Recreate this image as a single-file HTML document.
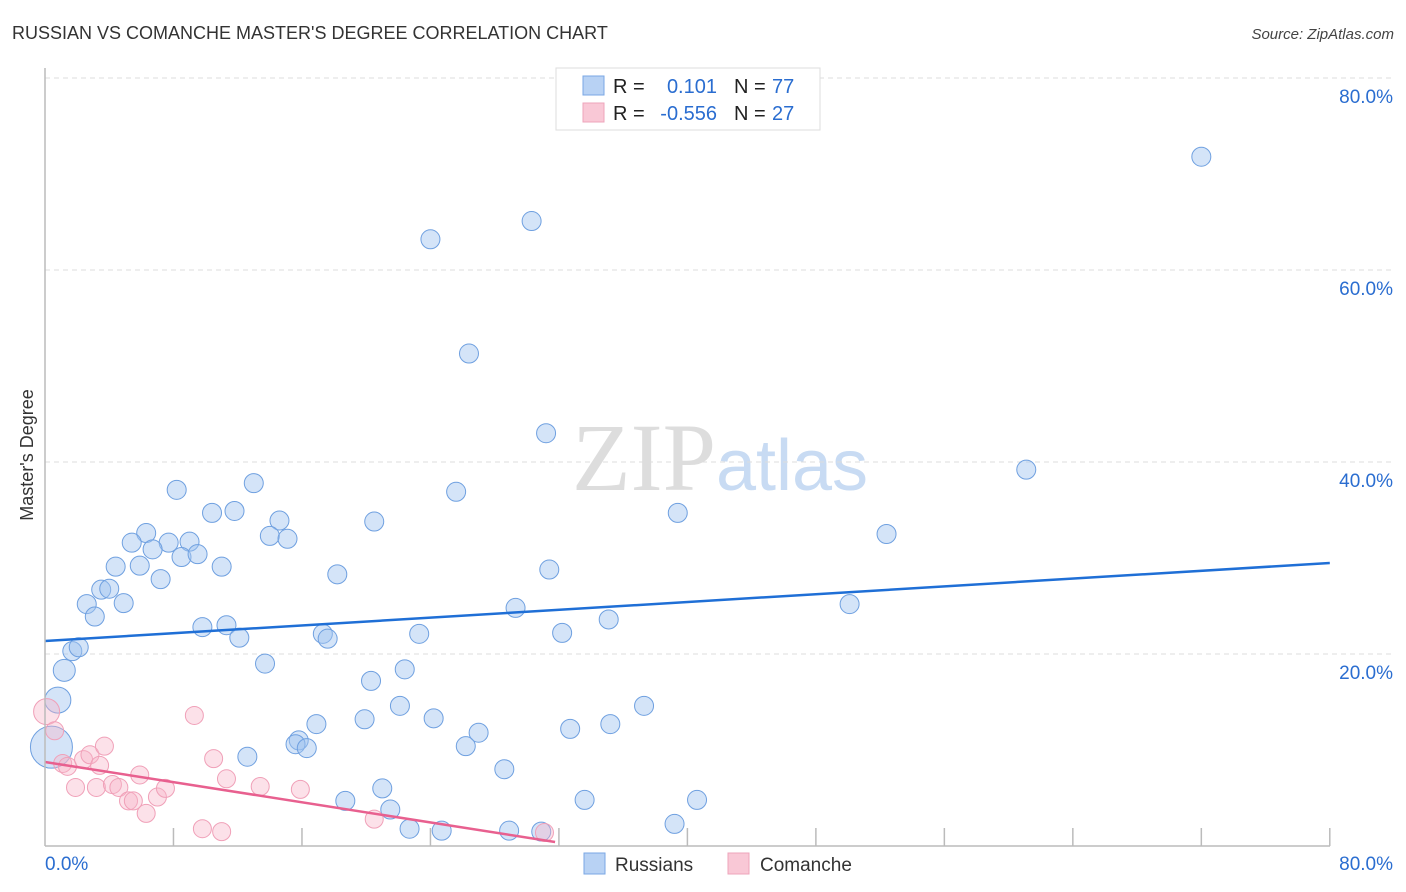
<!DOCTYPE html>
<html><head><meta charset="utf-8"><style>
body{margin:0;background:#fff;font-family:"Liberation Sans",sans-serif;}
</style></head><body>
<svg id="chart" width="1406" height="892" xmlns="http://www.w3.org/2000/svg" style="display:block">
<text x="12" y="39" font-size="18" fill="#333">RUSSIAN VS COMANCHE MASTER'S DEGREE CORRELATION CHART</text>
<text x="1394" y="39" font-size="15" fill="#444" text-anchor="end" font-style="italic">Source: ZipAtlas.com</text>
<text x="720" y="490" font-size="96" text-anchor="middle" fill="#ddd" font-family="Liberation Serif,serif">ZIP<tspan fill="#c8dbf3" font-family="Liberation Sans,sans-serif" font-size="72">atlas</tspan></text>
<text transform="translate(33,455) rotate(-90)" font-size="18" fill="#333" text-anchor="middle">Master's Degree</text>
<g id="grid"></g>
<g id="marks"></g>
<g id="axes"></g>
<g>
<rect x="556" y="68" width="264" height="62" fill="#fff" stroke="#ddd"/>
<rect x="583" y="76" width="21" height="19" fill="#b8d2f4" stroke="#7aa7e4"/>
<rect x="583" y="103" width="21" height="19" fill="#f9c8d6" stroke="#eea4bb"/>
<text x="613" y="93" font-size="20" fill="#222">R = </text><text x="717" y="93" font-size="20" fill="#2a6dd0" text-anchor="end">0.101</text>
<text x="734" y="93" font-size="20" fill="#222">N = </text><text x="772" y="93" font-size="20" fill="#2a6dd0">77</text>
<text x="613" y="120" font-size="20" fill="#222">R = </text><text x="717" y="120" font-size="20" fill="#2a6dd0" text-anchor="end">-0.556</text>
<text x="734" y="120" font-size="20" fill="#222">N = </text><text x="772" y="120" font-size="20" fill="#2a6dd0">27</text>
</g>
<g>
<rect x="584" y="853" width="21" height="21" fill="#b8d2f4" stroke="#7aa7e4"/>
<text x="615" y="871" font-size="19" fill="#333">Russians</text>
<rect x="728" y="853" width="21" height="21" fill="#f9c8d6" stroke="#eea4bb"/>
<text x="760" y="871" font-size="19" fill="#333">Comanche</text>
</g>
</svg>
<script>
const blueX=[72.0,30.3,24.0,26.4,31.2,61.1,8.2,13.0,25.6,10.4,11.8,14.6,20.5,39.4,52.4,6.3,5.4,7.7,9.0,6.7,14.0,15.1,8.5,9.5,4.4,5.9,11.0,7.2,18.2,31.4,3.5,4.0,2.6,4.9,3.1,29.3,50.1,35.1,9.8,11.3,12.1,17.3,17.6,23.3,32.2,1.7,2.1,1.2,13.7,22.4,0.8,20.3,22.1,37.3,16.9,19.9,24.2,27.0,32.7,35.2,15.8,15.6,16.3,26.2,12.6,0.4,28.6,21.0,18.7,21.5,33.6,40.6,22.7,24.7,28.9,30.9,39.2];
const blueY=[71.8,65.1,63.2,51.3,43.0,39.2,37.1,37.8,36.9,34.7,34.9,33.9,33.8,34.7,32.5,32.6,31.6,31.6,31.7,30.9,32.3,32.0,30.1,30.4,29.1,29.2,29.1,27.8,28.3,28.8,26.7,26.8,25.2,25.3,23.9,24.8,25.2,23.6,22.8,23.0,21.7,22.1,21.6,22.1,22.2,20.3,20.7,18.3,19.0,18.4,15.2,17.2,14.6,14.6,12.7,13.2,13.3,11.8,12.2,12.7,11.0,10.6,10.2,10.4,9.3,10.3,8.0,6.0,4.7,3.8,4.8,4.8,1.8,1.6,1.6,1.5,2.3];
const pinkX=[0.1,0.6,1.1,1.4,1.9,2.4,2.8,3.2,3.4,3.7,4.2,4.6,5.2,5.5,5.9,6.3,7.0,7.5,9.3,9.8,11.0,10.5,11.3,13.4,15.9,20.5,31.1];
const pinkY=[14.0,12.0,8.6,8.3,6.1,9.0,9.5,6.1,8.4,10.4,6.4,6.1,4.7,4.7,7.4,3.4,5.1,6.0,13.6,1.8,1.5,9.1,7.0,6.2,5.9,2.8,1.4];
const blueTrend=[21.35,29.48];
const pinkTrend=[8.75,0.42];
const pinkTrendEnd=31.76;
const yTicks=[20,40,60,80];
const xTickCount=10;
const NS="http://www.w3.org/2000/svg";
const X=v=>45+v*16.06, Y=v=>846-v*9.6;
function mk(tag,attrs,parent){const e=document.createElementNS(NS,tag);for(const k in attrs)e.setAttribute(k,attrs[k]);parent.appendChild(e);return e;}
const grid=document.getElementById('grid'),marks=document.getElementById('marks'),axes=document.getElementById('axes');
yTicks.forEach(t=>{
 const l=mk('line',{x1:45,x2:1395,y1:Y(t),y2:Y(t),stroke:'#ddd','stroke-dasharray':'5,4'},grid);
 
 
 const tx=mk('text',{x:1393,y:Y(t)+25,'font-size':19,fill:'#2a6dd0','text-anchor':'end'},axes);
 tx.textContent=t.toFixed(1)+'%';
 
 
});
mk('line',{x1:45,x2:45,y1:68,y2:846,stroke:'#bbb','stroke-width':1.5},axes);
mk('line',{x1:45,x2:1330,y1:846,y2:846,stroke:'#bbb','stroke-width':1.5},axes);
for(let i=1;i<=xTickCount;i++){const xx=X(i*8);mk('line',{x1:xx,x2:xx,y1:828,y2:846,stroke:'#bbb','stroke-width':1.5},axes);}
[[0,'start','0.0%'],[80,'end','80.0%']].forEach(([v,a,s])=>{const t=mk('text',{x:v?1393:45,y:870,'font-size':19,fill:'#2a6dd0','text-anchor':a},axes);t.textContent=s;
 
 });
blueX.forEach((v,i)=>{
 const r=i===65?21:(i===50?13:(i===47?11:9.5));
 const c=mk('circle',{cx:X(v),cy:Y(blueY[i]),r:r,fill:'rgba(160,196,240,0.45)',stroke:'#6fa0e0','stroke-width':1},marks);
 
 
});
pinkX.forEach((v,i)=>{
 const r=i===0?13:9;
 const c=mk('circle',{cx:X(v),cy:Y(pinkY[i]),r:r,fill:'rgba(248,180,200,0.4)',stroke:'#f0a0b8','stroke-width':1},marks);
 
 
});
const bl=mk('line',{x1:X(0),y1:Y(blueTrend[0]),x2:X(80),y2:Y(blueTrend[1]),stroke:'#1f6fd6','stroke-width':2.5},marks);


const pl=mk('line',{x1:X(0),y1:Y(pinkTrend[0]),x2:X(pinkTrendEnd),y2:Y(pinkTrend[1]),stroke:'#e8608f','stroke-width':2.5},marks);


</script>
</body></html>
